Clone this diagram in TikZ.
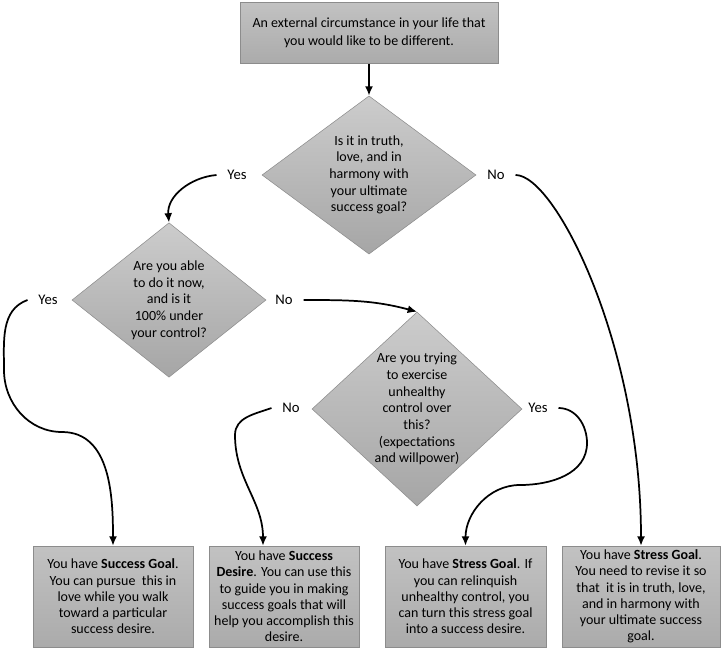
\documentclass[tikz,border=0pt]{standalone}
\usepackage{xcolor}
\usepackage{fontspec}
\setmainfont{Carlito}
\usepackage{tikz}
\usetikzlibrary{positioning,shapes.geometric,arrows.meta,calc}

\begin{document}
\begin{tikzpicture}[x=0.75pt,y=0.75pt,
    box/.style={draw=gray!90, top color=gray!48, bottom color=gray!66, inner sep=2pt,
        align=center, font=\fontsize{10.5}{12.2}\selectfont},
    ask/.style={diamond, draw=gray!90, top color=gray!40, bottom color=gray!70, inner sep=0pt,
        align=center, font=\fontsize{10.5}{12.5}\selectfont},
    lbl/.style={font=\fontsize{11}{13}\selectfont, inner xsep=8pt},
    arr/.style={-{Latex[length=7pt,width=6pt]}, line width=1.3pt}]
    \useasboundingbox (0,0) rectangle (723,651);

    \node[box, minimum width=193.5pt, minimum height=45.75pt, font=\fontsize{10.5}{13.5}\selectfont] (top) at (369,618)
        {An external circumstance in your life that\\you would like to be different.};

    % questions
    \node[ask, minimum width=160.5pt, minimum height=112.5pt] (q1) at (369,476)
        {Is it in truth,\\love, and in\\harmony with\\your ultimate\\success goal?};
    \node[ask, minimum width=145.5pt, minimum height=105pt] (q2) at (169,351)
        {Are you able\\to do it now,\\and is it\\100\% under\\your control?};
    \node[ask, aspect=1.08, minimum width=157.5pt, minimum height=145.5pt] (q3) at (417,242)
        {Are you trying\\to exercise\\unhealthy\\control over\\this?\\(expectations\\and willpower)};

    \node[lbl] (yes1) at (237,476) {Yes};
    \node[lbl] (no1) at (496,476) {No};
    \node[lbl] (yes2) at (48,351) {Yes};
    \node[lbl] (no2) at (284,351) {No};
    \node[lbl] (no3) at (291,243) {No};
    \node[lbl] (yes3) at (538,243) {Yes};

    % results
    \node[box, minimum width=120pt, minimum height=75.75pt] (r1) at (113,54.5)
        {You have \textbf{Success Goal}.\\You can pursue\ \ this in\\love while you walk\\toward a particular\\success desire.};
    \node[box, minimum width=112.5pt, minimum height=75.75pt] (r2) at (284,54.5)
        {You have \textbf{Success}\\\textbf{Desire}. You can use this\\to guide you in making\\success goals that will\\help you accomplish this\\desire.};
    \node[box, minimum width=120.75pt, minimum height=75.75pt] (r3) at (465.5,54.5)
        {You have \textbf{Stress Goal}. If\\you can relinquish\\unhealthy control, you\\can turn this stress goal\\into a success desire.};
    \node[box, minimum width=118.5pt, minimum height=75.75pt] (r4) at (641,54.5)
        {You have \textbf{Stress Goal}.\\You need to revise it so\\that\ \ it is in truth, love,\\and in harmony with\\your ultimate success\\goal.};

    \draw[arr] (top) -- (q1);
    \draw[arr] (yes1.west) to[out=185,in=95] (q2.north);
    \draw[arr] (no1.east) to[out=0,in=90,out distance=30pt,in distance=150pt] (r4.north);
    \draw[arr] (yes2.west) to[out=200,in=90] (4,281) to[out=-90,in=180] (62,219) to[out=0,in=90] (r1.north);
    \draw[arr] (no2.east) to[out=0,in=165] (q3.north);
    \draw[arr] (no3.west) to[out=200,in=90] (235,216) to[out=-90,in=90] ([xshift=-15.75pt]r2.north);
    \draw[arr] (yes3.east) to[out=0,in=90] (587,208) to[out=-90,in=0] (520,166) to[out=180,in=90] (r3.north);
\end{tikzpicture}
\end{document}
